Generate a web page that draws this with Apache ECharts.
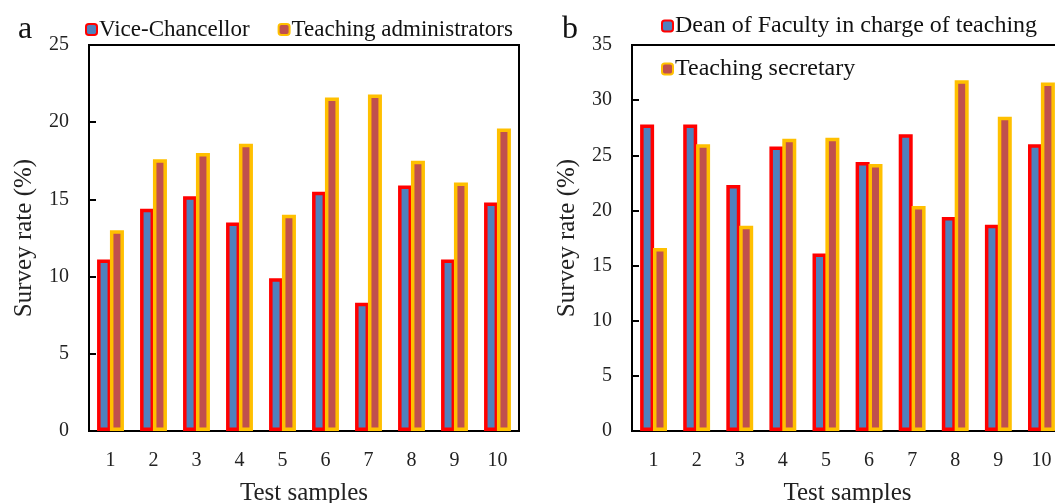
<!DOCTYPE html>
<html><head><meta charset="utf-8">
<script src="https://cdn.jsdelivr.net/npm/echarts@6/dist/echarts.min.js"></script>
<style>html,body{margin:0;padding:0;background:#fff}#c{width:1055px;height:503px}</style>
</head><body><div id="c"></div>
<script>
const categories = ['1','2','3','4','5','6','7','8','9','10'];
const viceChancellor = [11.1, 14.4, 15.2, 13.5, 9.9, 15.5, 8.3, 15.9, 11.1, 14.8];
const teachingAdmin = [13.0, 17.6, 18.0, 18.6, 14.0, 21.6, 21.8, 17.5, 16.1, 19.6];
const dean = [27.8, 27.8, 22.3, 25.8, 16.1, 24.4, 26.9, 19.4, 18.7, 26.0];
const secretary = [16.6, 26.0, 18.6, 26.5, 26.6, 24.2, 20.4, 31.8, 28.5, 31.6];

const FONT = 'Liberation Serif';
const blueStyle = {color:'#4F81BD', borderColor:'#FF0000', borderWidth:3.5};
const redStyle = {color:'#C0504D', borderColor:'#FFC000', borderWidth:3.5};

function xAx(gi){
  return {type:'category', gridIndex:gi, data:categories,
    name:'Test samples', nameLocation:'middle', nameGap:50,
    nameTextStyle:{fontFamily:FONT, fontSize:25, color:'#222'},
    axisLine:{lineStyle:{color:'#000', width:2}},
    axisTick:{inside:true, length:7, lineStyle:{color:'#000', width:2}},
    axisLabel:{fontFamily:FONT, fontSize:20, color:'#222', margin:20},
    splitLine:{show:false}};
}
function yAx(gi, max){
  return {type:'value', gridIndex:gi, min:0, max:max, interval:5,
    name:'Survey rate (%)', nameLocation:'middle', nameGap:52,
    nameTextStyle:{fontFamily:FONT, fontSize:25, color:'#222'},
    axisLine:{show:true, lineStyle:{color:'#000', width:2}},
    axisTick:{show:true, inside:true, length:7, lineStyle:{color:'#000', width:2}},
    axisLabel:{fontFamily:FONT, fontSize:20, color:'#222', margin:20},
    splitLine:{show:false}};
}

const chart = echarts.init(document.getElementById('c'), null, {renderer:'canvas'});
chart.setOption({
  animation:false,
  backgroundColor:'#fff',
  title:[
    {text:'a', left:13, top:9, textStyle:{fontFamily:FONT, fontSize:32, fontWeight:'normal', color:'#111'}},
    {text:'b', left:557, top:9, textStyle:{fontFamily:FONT, fontSize:32, fontWeight:'normal', color:'#111'}}
  ],
  legend:[
    {data:['Vice-Chancellor','Teaching administrators'], left:80, top:13, itemWidth:11, itemHeight:11, itemGap:28,
      textStyle:{fontFamily:FONT, fontSize:23, color:'#111', padding:[0,0,0,-3]}},
    {data:['Dean of Faculty in charge of teaching','Teaching secretary'], orient:'vertical', left:656, top:9, itemWidth:11, itemHeight:11, itemGap:19,
      textStyle:{fontFamily:FONT, fontSize:24, color:'#111', padding:[0,0,0,-3]}}
  ],
  grid:[
    {left:89, top:45, width:430, height:386, show:true, borderColor:'#000', borderWidth:2, backgroundColor:'transparent', outerBoundsMode:'none'},
    {left:632, top:45, width:431, height:386, show:true, borderColor:'#000', borderWidth:2, backgroundColor:'transparent', outerBoundsMode:'none'}
  ],
  xAxis:[xAx(0), xAx(1)],
  yAxis:[yAx(0,25), yAx(1,35)],
  series:[
    {name:'Vice-Chancellor', type:'bar', xAxisIndex:0, yAxisIndex:0, data:viceChancellor, barWidth:14, barGap:'-8%', itemStyle:blueStyle},
    {name:'Teaching administrators', type:'bar', xAxisIndex:0, yAxisIndex:0, data:teachingAdmin, barWidth:14, barGap:'-8%', itemStyle:redStyle},
    {name:'Dean of Faculty in charge of teaching', type:'bar', xAxisIndex:1, yAxisIndex:1, data:dean, barWidth:14, barGap:'-8%', itemStyle:blueStyle},
    {name:'Teaching secretary', type:'bar', xAxisIndex:1, yAxisIndex:1, data:secretary, barWidth:14, barGap:'-8%', itemStyle:redStyle}
  ]
});
</script></body></html>
